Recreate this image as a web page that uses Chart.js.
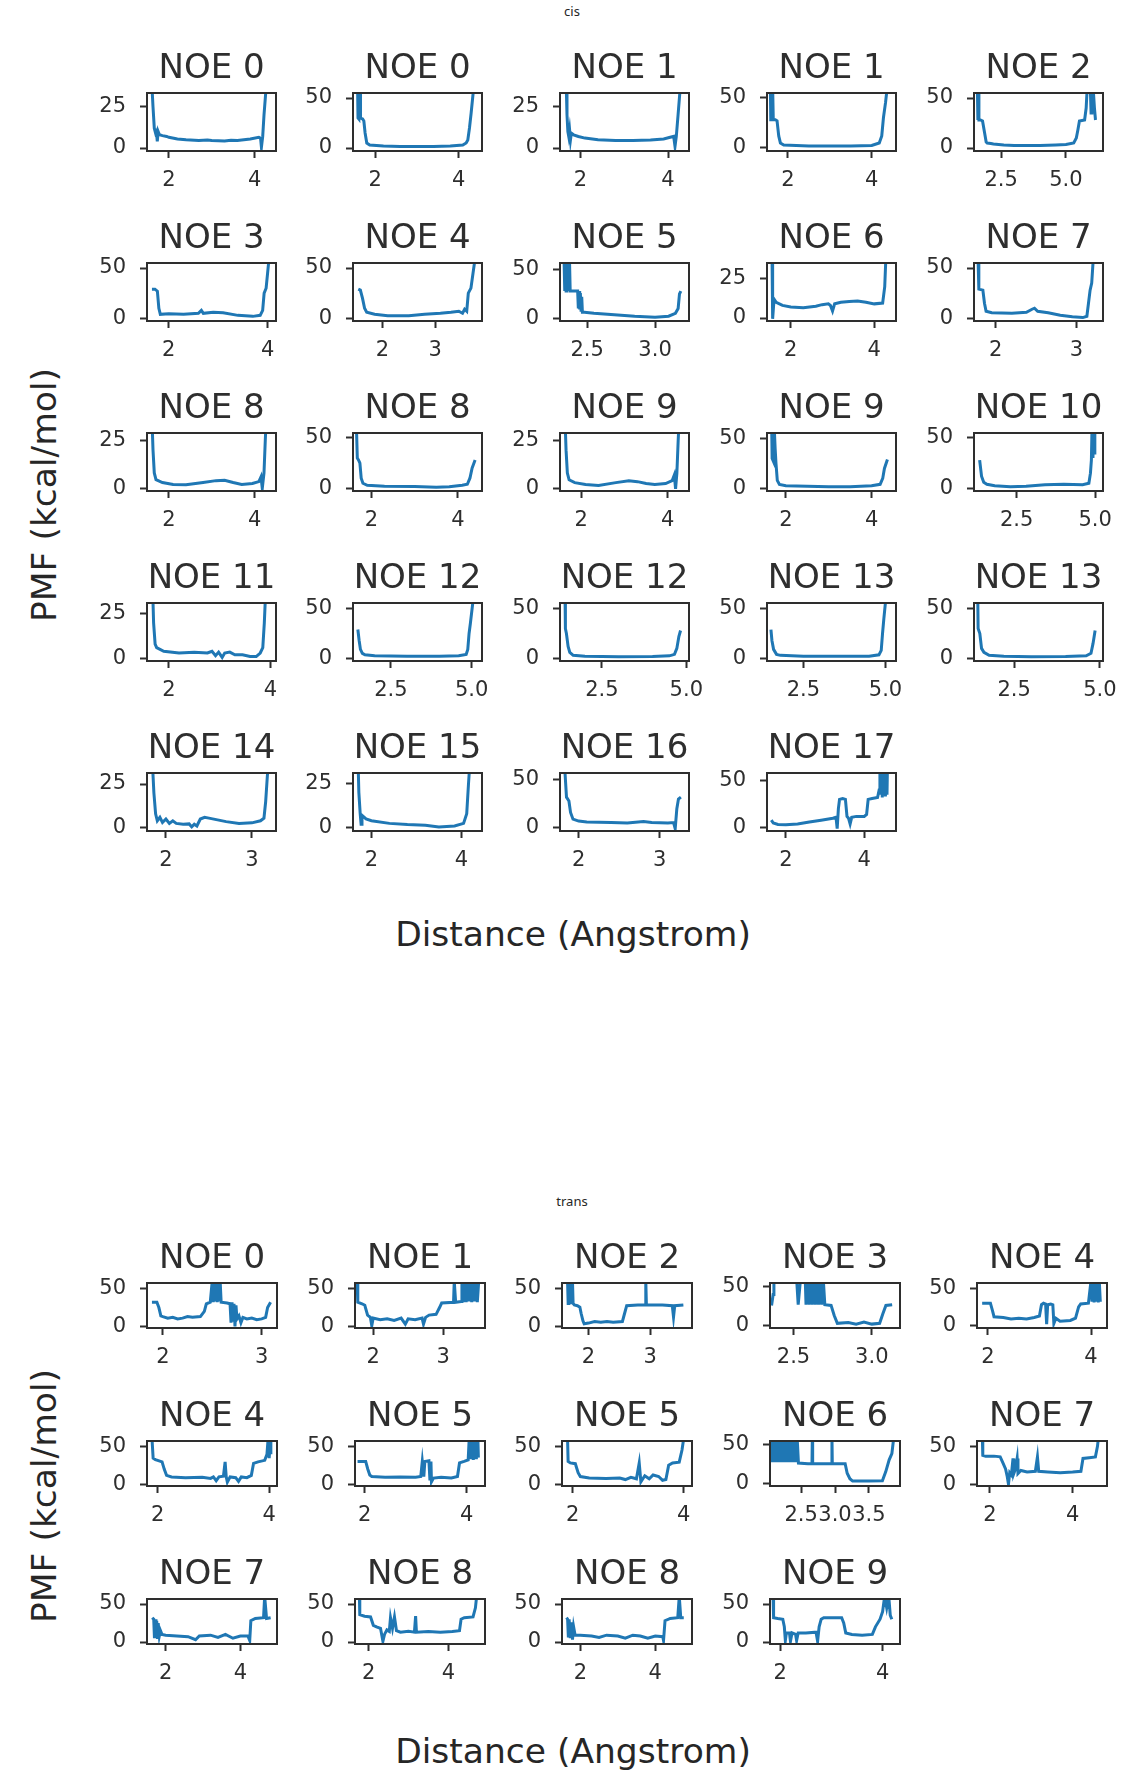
<!DOCTYPE html>
<html>
<head>
<meta charset="utf-8">
<title>PMF per NOE</title>
<script src="https://cdn.jsdelivr.net/npm/chart.js@4.4.1/dist/chart.umd.min.js"></script>
<style>
  body { margin: 0; background: #fff; }
  #page { position: relative; width: 1144px; height: 1784px; overflow: hidden; font-family: "DejaVu Sans", sans-serif; color: #262626; }
  #page canvas { position: absolute; }
  .big { position: absolute; font-size: 34.5px; line-height: 34px; white-space: nowrap; }
  .small { position: absolute; font-family: "Noto Sans", sans-serif; font-size: 13px; line-height: 13px; white-space: nowrap; transform: translateX(-50%); }
  .ylab { transform: translate(-50%, -50%) rotate(-90deg); }
  .xlab { transform: translateX(-50%); }
</style>
</head>
<body>
<div id="page">
  <div class="small" style="left:572px; top:5px;">cis</div>
  <div class="big ylab" style="left:44px; top:495px;">PMF (kcal/mol)</div>
  <div class="big xlab" style="left:573px; top:917px;">Distance (Angstrom)</div>
  <div class="small" style="left:572px; top:1195px;">trans</div>
  <div class="big ylab" style="left:44px; top:1496px;">PMF (kcal/mol)</div>
  <div class="big xlab" style="left:573px; top:1734px;">Distance (Angstrom)</div>
</div>
<script>
// ---- cis panels (row by row) ----
const cisTitles = ['NOE 0', 'NOE 0', 'NOE 1', 'NOE 1', 'NOE 2',
                   'NOE 3', 'NOE 4', 'NOE 5', 'NOE 6', 'NOE 7',
                   'NOE 8', 'NOE 8', 'NOE 9', 'NOE 9', 'NOE 10',
                   'NOE 11', 'NOE 12', 'NOE 12', 'NOE 13', 'NOE 13',
                   'NOE 14', 'NOE 15', 'NOE 16', 'NOE 17'];
const cisXTicks = [['2','4'], ['2','4'], ['2','4'], ['2','4'], ['2.5','5.0'],
                   ['2','4'], ['2','3'], ['2.5','3.0'], ['2','4'], ['2','3'],
                   ['2','4'], ['2','4'], ['2','4'], ['2','4'], ['2.5','5.0'],
                   ['2','4'], ['2.5','5.0'], ['2.5','5.0'], ['2.5','5.0'], ['2.5','5.0'],
                   ['2','3'], ['2','4'], ['2','3'], ['2','4']];
const cisYTicks = [['0','25'], ['0','50'], ['0','25'], ['0','50'], ['0','50'],
                   ['0','50'], ['0','50'], ['0','50'], ['0','25'], ['0','50'],
                   ['0','25'], ['0','50'], ['0','25'], ['0','50'], ['0','50'],
                   ['0','25'], ['0','50'], ['0','50'], ['0','50'], ['0','50'],
                   ['0','25'], ['0','25'], ['0','50'], ['0','50']];
const cisXMin = [1.49, 1.47, 1.53, 1.50, 1.45,  1.56, 1.44, 2.30, 1.43, 1.73,  1.49, 1.57, 1.51, 1.56, 1.14,  1.57, 1.33, 1.26, 1.39, 1.33,  1.78, 1.59, 1.77, 1.52];
const cisXMax = [4.50, 4.56, 4.48, 4.58, 6.43,  4.17, 3.89, 3.25, 4.52, 3.33,  4.50, 4.56, 4.49, 4.57, 5.25,  4.11, 5.32, 5.08, 5.32, 5.09,  3.28, 4.46, 3.36, 4.81];
const cisYMin = [-1.8, -3.0, -1.8, -3.0, -3.0,  -2.6, -2.7, -3.0, -1.9, -2.7,  -1.4, -2.7, -1.4, -2.7, -2.7,  -1.5, -2.7, -2.7, -2.7, -2.7,  -1.85, -1.8, -3.4, -3.5];
const cisYMax = [33.3, 55.0, 33.3, 54.6, 55.0,  55.0, 55.0, 57.0, 35.0, 55.0,  28.8, 54.9, 29.0, 55.7, 54.9,  31.2, 55.7, 55.7, 55.7, 55.7,  31.3, 30.9, 57.3, 58.0];

// PMF curves, [distance, kcal/mol]
const cisR1C1 = [[1.60,40],[1.63,25],[1.66,12],[1.69,9],[1.71,10],[1.73,4],[1.75,10],[1.78,8],[1.85,7.5],[1.95,7],[2.0,6.5],[2.2,5.5],[2.4,5],[2.7,4.5],[2.9,4.8],[3.0,4.5],[3.3,4.3],[3.45,4.7],[3.6,4.5],[3.9,5.5],[4.1,6.5],[4.14,6],[4.16,0.5],[4.19,7],[4.22,20],[4.25,30],[4.28,40]];
const cisR1C2 = [[1.58,60],[1.59,30],[1.61,29],[1.62,60],[1.64,60],[1.65,30],[1.70,29],[1.73,27],[1.76,15],[1.80,5],[1.87,3],[2.2,2],[2.6,1.5],[3.0,1.5],[3.4,1.5],[3.8,2],[4.1,3],[4.18,5],[4.22,8],[4.26,20],[4.30,35],[4.36,60]];
const cisR1C3 = [[1.67,40],[1.69,20],[1.71,10],[1.73,7],[1.75,11],[1.77,5],[1.79,9],[1.84,8],[1.95,7],[2.1,6],[2.4,5],[2.8,4.5],[3.2,4.5],[3.6,4.8],[3.9,5.5],[4.05,6.5],[4.13,7],[4.16,1],[4.19,7],[4.23,20],[4.26,30],[4.29,40]];
const cisR1C4 = [[1.58,60],[1.59,28],[1.62,28],[1.63,60],[1.64,60],[1.65,28],[1.70,28],[1.74,27],[1.78,12],[1.82,5],[1.9,3],[2.2,2.5],[2.5,2],[3.0,2],[3.5,2],[4.0,2.5],[4.18,5],[4.24,12],[4.28,30],[4.33,45],[4.37,60]];
const cisR1C5 = [[1.58,60],[1.60,28],[1.62,60],[1.64,28],[1.70,28],[1.78,27],[1.86,15],[1.92,6],[1.96,5],[2.1,4.5],[2.2,4],[2.6,3],[3.0,2.5],[3.5,2.5],[4.0,2.5],[4.6,3],[5.0,3.5],[5.3,5],[5.4,10],[5.46,18],[5.52,27],[5.72,28],[5.78,40],[5.82,60],[5.94,60],[5.97,35],[6.0,60],[6.05,60],[6.10,40],[6.14,28]];
const cisR2C1 = [[1.66,29],[1.72,29],[1.77,27],[1.80,10],[1.83,4],[2.0,4.5],[2.3,4],[2.6,5],[2.66,8],[2.7,5],[2.9,6],[3.1,5.5],[3.4,3],[3.7,2],[3.85,3],[3.90,8],[3.93,25],[3.97,30],[4.0,45],[4.03,60]];
const cisR2C2 = [[1.54,29],[1.58,28],[1.62,20],[1.66,10],[1.70,6],[1.85,4],[2.1,2.5],[2.5,2.5],[2.8,4],[3.1,5],[3.3,6],[3.45,7],[3.52,5],[3.56,9],[3.6,7],[3.63,25],[3.68,30],[3.72,45],[3.76,60]];
const cisR2C3 = [[2.33,60],[2.335,28],[2.34,60],[2.345,28],[2.35,60],[2.355,28],[2.36,60],[2.365,30],[2.37,60],[2.375,28],[2.38,28],[2.42,28],[2.43,28],[2.435,10],[2.44,28],[2.445,9],[2.45,26],[2.455,8],[2.46,22],[2.465,6],[2.48,6],[2.55,5],[2.7,3.5],[2.85,2],[3.0,1],[3.1,2],[3.15,5],[3.17,10],[3.18,25],[3.19,28]];
const cisR2C4 = [[1.55,40],[1.56,10],[1.57,-0.5],[1.58,5],[1.60,12],[1.65,10],[1.8,8],[2.0,7],[2.3,6.5],[2.6,7.5],[2.75,8.5],[2.9,9],[2.95,8],[3.0,4.5],[3.05,9],[3.2,10],[3.4,10.5],[3.6,10.8],[3.8,10],[4.0,9],[4.2,9.5],[4.25,20],[4.28,40]];
const cisR2C5 = [[1.78,60],[1.79,29],[1.84,28],[1.86,15],[1.88,7],[1.95,5.5],[2.2,5],[2.38,6],[2.45,9],[2.48,10],[2.52,7],[2.65,5.5],[2.8,3],[2.95,1.5],[3.08,0.7],[3.13,2],[3.15,15],[3.17,28],[3.19,35],[3.21,60]];
const cisR3C1 = [[1.60,40],[1.63,20],[1.66,8],[1.70,4.5],[1.85,3],[2.1,2],[2.4,1.8],[2.8,3],[3.1,4],[3.3,4.2],[3.5,3],[3.7,2],[3.95,2.5],[4.1,3.5],[4.15,6],[4.18,0],[4.22,8],[4.25,25],[4.28,40]];
const cisR3C2 = [[1.65,60],[1.67,30],[1.70,28],[1.73,25],[1.76,10],[1.80,5],[1.9,3],[2.3,2],[3.0,1.8],[3.5,1],[3.8,1.5],[4.1,3],[4.22,4],[4.28,10],[4.33,20],[4.40,28]];
const cisR3C3 = [[1.62,40],[1.65,20],[1.68,8],[1.72,4.5],[1.85,3],[2.1,2],[2.4,1.5],[2.8,3],[3.1,4],[3.3,3.5],[3.5,2.5],[3.7,2],[3.95,2.5],[4.1,4],[4.15,7],[4.18,-0.3],[4.21,8],[4.24,25],[4.27,40]];
const cisR3C4 = [[1.67,60],[1.68,30],[1.71,27],[1.73,60],[1.75,40],[1.77,25],[1.80,8],[1.85,4],[2.0,2.5],[2.5,2],[3.0,1.5],[3.5,1.5],[4.0,2.5],[4.2,4],[4.26,10],[4.30,20],[4.37,29]];
const cisR3C5 = [[1.32,28],[1.35,20],[1.38,12],[1.45,6],[1.55,4],[1.8,2.5],[2.3,1.5],[2.8,2],[3.4,3.5],[4.0,4],[4.6,3.5],[4.8,5],[4.85,15],[4.88,28],[4.90,60],[4.93,30],[4.95,60],[4.97,35],[4.99,60]];
const cisR4C1 = [[1.68,40],[1.70,20],[1.73,8],[1.76,6],[1.9,4],[2.2,3],[2.5,3.5],[2.76,3],[2.85,4],[2.92,1.5],[2.98,3.5],[3.05,0.5],[3.1,3],[3.2,3.5],[3.3,2],[3.45,2],[3.6,1],[3.72,1],[3.8,3],[3.85,6],[3.88,20],[3.91,40]];
const cisR4C2 = [[1.48,29],[1.52,18],[1.56,9],[1.62,5],[1.7,3.5],[2.0,2.5],[3.0,2],[4.0,2],[4.6,2.5],[4.83,4],[4.88,9],[4.92,25],[4.96,35],[5.05,60]];
const cisR4C3 = [[1.41,60],[1.42,30],[1.45,25],[1.50,12],[1.55,6],[1.65,3],[2.0,2],[3.0,1.5],[4.0,1.8],[4.5,2.5],[4.65,4],[4.72,10],[4.78,22],[4.83,28]];
const cisR4C4 = [[1.51,29],[1.54,18],[1.59,9],[1.68,4],[1.8,3],[2.5,2],[3.5,2],[4.5,2.2],[4.8,3.5],[4.87,8],[4.91,25],[4.95,40],[5.01,60]];
const cisR4C5 = [[1.44,60],[1.45,30],[1.50,25],[1.55,10],[1.62,6],[1.77,3],[2.2,2],[3.0,1.5],[4.0,1.8],[4.6,2.5],[4.74,5],[4.80,15],[4.86,28]];
const cisR5C1 = [[1.84,40],[1.86,20],[1.88,8],[1.90,4],[1.93,6],[1.96,3],[2.0,5],[2.04,2.5],[2.08,4],[2.12,2.5],[2.2,2],[2.27,2.2],[2.3,0.5],[2.33,2],[2.36,1],[2.40,5],[2.45,6],[2.5,5.5],[2.6,4.5],[2.7,3.5],[2.85,2.5],[3.0,2.8],[3.1,4],[3.14,5.5],[3.16,15],[3.18,30],[3.2,40]];
const cisR5C2 = [[1.70,40],[1.72,20],[1.75,8],[1.77,2],[1.79,7],[1.88,5],[2.0,4],[2.4,2.5],[2.8,1.8],[3.2,1.5],[3.5,0.5],[3.85,1],[4.05,2.5],[4.12,8],[4.16,25],[4.20,40]];
const cisR5C3 = [[1.83,60],[1.85,32],[1.88,28],[1.90,16],[1.93,9],[2.0,7],[2.1,6],[2.4,5.5],[2.6,5],[2.8,6.5],[2.9,5.5],[3.1,5],[3.17,5.5],[3.19,-1],[3.21,20],[3.23,30],[3.26,32]];
const cisR5C4 = [[1.63,8],[1.68,5],[1.8,3.5],[2.0,3],[2.3,4],[2.6,6],[2.9,8],[3.2,10],[3.28,11],[3.31,-1],[3.34,20],[3.37,30],[3.45,31],[3.52,30],[3.56,12],[3.6,10],[3.64,4],[3.68,11],[3.8,12],[4.0,12],[4.06,14],[4.1,30],[4.2,31],[4.34,32],[4.38,40],[4.40,60],[4.42,35],[4.44,60],[4.46,32],[4.48,60],[4.50,35],[4.52,60],[4.54,33],[4.56,60],[4.58,35],[4.59,60]];
const cisCurves = [cisR1C1, cisR1C2, cisR1C3, cisR1C4, cisR1C5,
                   cisR2C1, cisR2C2, cisR2C3, cisR2C4, cisR2C5,
                   cisR3C1, cisR3C2, cisR3C3, cisR3C4, cisR3C5,
                   cisR4C1, cisR4C2, cisR4C3, cisR4C4, cisR4C5,
                   cisR5C1, cisR5C2, cisR5C3, cisR5C4];

// ---- trans panels ----
const transTitles = ['NOE 0', 'NOE 1', 'NOE 2', 'NOE 3', 'NOE 4',
                     'NOE 4', 'NOE 5', 'NOE 5', 'NOE 6', 'NOE 7',
                     'NOE 7', 'NOE 8', 'NOE 8', 'NOE 9'];
const transXTicks = [['2','3'], ['2','3'], ['2','3'], ['2.5','3.0'], ['2','4'],
                     ['2','4'], ['2','4'], ['2','4'], ['2.5','3.0','3.5'], ['2','4'],
                     ['2','4'], ['2','4'], ['2','4'], ['2','4']];
const transYTicks = ['0', '50'];
const transXMin = [1.84, 1.74, 1.57, 2.35, 1.79,  1.81, 1.81, 1.81, 2.04, 1.69,  1.50, 1.66, 1.51, 1.80];
const transXMax = [3.155, 3.60, 3.68, 3.18, 4.31,  4.14, 4.36, 4.15, 3.96, 4.83,  4.98, 4.92, 4.98, 4.34];
const transYMin = [-2.1, -2.1, -2.5, -3.0, -3.0,  -2.1, -2.5, -2.5, -3.3, -2.5,  -2.6, -2.6, -2.6, -2.6];
const transYMax = [57.5, 57.5, 57.0, 54.8, 56.9,  57.7, 57.0, 57.0, 54.0, 57.0,  56.6, 56.6, 56.6, 56.6];

const transR1C1 = [[1.89,32],[1.94,32],[1.96,25],[1.98,14],[2.0,13],[2.05,11],[2.1,12],[2.15,10],[2.2,11],[2.25,13],[2.3,12],[2.38,13],[2.42,20],[2.44,30],[2.48,32],[2.50,60],[2.51,32],[2.52,60],[2.53,33],[2.54,60],[2.55,32],[2.56,60],[2.57,33],[2.58,60],[2.59,32],[2.65,31],[2.68,30],[2.69,5],[2.70,32],[2.71,8],[2.72,30],[2.73,0],[2.74,28],[2.75,10],[2.77,14],[2.79,5],[2.81,12],[2.85,10],[2.9,11],[2.95,9],[3.0,10],[3.04,12],[3.06,25],[3.09,32]];
const transR1C2 = [[1.77,60],[1.78,32],[1.84,30],[1.88,28],[1.92,15],[1.96,12],[1.98,1],[2.0,11],[2.1,9],[2.2,10],[2.3,8],[2.4,11],[2.46,3],[2.5,10],[2.6,9],[2.7,11],[2.72,3],[2.75,12],[2.8,15],[2.9,16],[2.95,25],[2.98,31],[3.15,32],[3.16,60],[3.18,32],[3.26,33],[3.27,60],[3.29,32],[3.31,60],[3.33,32],[3.35,60],[3.37,33],[3.39,60],[3.41,32],[3.43,60],[3.45,33],[3.47,60],[3.49,32],[3.51,60]];
const transR1C3 = [[1.66,60],[1.67,30],[1.68,60],[1.69,29],[1.70,60],[1.71,30],[1.72,60],[1.73,29],[1.74,60],[1.75,30],[1.77,28],[1.82,27],[1.86,25],[1.88,17],[1.91,7],[1.93,3],[2.0,4],[2.1,6],[2.2,5],[2.3,6],[2.4,5],[2.55,6],[2.58,15],[2.62,27],[2.8,28],[2.92,28],[2.93,60],[2.94,28],[3.2,28],[3.36,27],[3.38,12],[3.40,27],[3.54,28]];
const transR1C4 = [[2.36,26],[2.37,40],[2.375,60],[2.52,60],[2.53,27],[2.545,60],[2.575,60],[2.58,27],[2.59,60],[2.60,27],[2.61,60],[2.62,27],[2.63,60],[2.64,27],[2.65,60],[2.66,27],[2.67,60],[2.68,27],[2.69,60],[2.70,27],[2.74,26],[2.76,13],[2.78,3],[2.85,4],[2.9,2],[2.95,4.5],[3.0,2],[3.05,3],[3.07,15],[3.09,26],[3.13,27]];
const transR1C5 = [[1.89,30],[2.05,30],[2.09,20],[2.12,12],[2.3,11],[2.45,9],[2.6,10],[2.75,9],[2.9,11],[3.0,13],[3.04,28],[3.08,30],[3.12,29],[3.14,2],[3.16,28],[3.22,29],[3.26,28],[3.28,3],[3.32,10],[3.4,6],[3.6,7],[3.7,10],[3.76,25],[3.80,29],[3.95,30],[4.0,60],[4.02,32],[4.04,60],[4.06,31],[4.08,60],[4.10,32],[4.12,60],[4.14,31],[4.16,60],[4.18,32]];
const transR2C1 = [[1.90,60],[1.92,35],[1.96,33],[2.0,32],[2.08,30],[2.12,20],[2.16,12],[2.25,10],[2.5,9],[2.8,9.5],[2.95,8],[3.0,10],[3.05,5],[3.1,10],[3.18,11],[3.21,30],[3.23,10],[3.25,3],[3.3,10],[3.4,9],[3.45,4],[3.5,10],[3.6,9],[3.68,12],[3.72,28],[3.8,30],[3.92,32],[3.96,40],[3.98,60],[4.0,35],[4.02,60],[4.03,40]];
const transR2C2 = [[1.86,30],[2.02,30],[2.06,20],[2.1,12],[2.14,10],[2.4,9],[2.7,9.5],[3.0,9],[3.1,10],[3.13,30],[3.16,10],[3.18,30],[3.26,31],[3.28,5],[3.30,30],[3.31,3],[3.35,8],[3.5,9],[3.7,8],[3.82,10],[3.86,28],[3.95,30],[4.03,32],[4.05,60],[4.08,33],[4.1,60],[4.13,32],[4.16,60],[4.19,33],[4.22,60],[4.23,35]];
const transR2C3 = [[1.91,60],[1.92,30],[1.96,28],[2.05,27],[2.1,15],[2.14,10],[2.3,8],[2.6,7.5],[2.85,8],[2.95,6],[3.05,9],[3.15,7],[3.2,28],[3.23,3],[3.3,11],[3.38,7],[3.45,12],[3.55,10],[3.62,5],[3.68,6],[3.73,25],[3.8,28],[3.92,29],[3.97,45],[4.0,60]];
const transR2C4 = [[2.06,27],[2.08,60],[2.10,27],[2.12,60],[2.14,27],[2.16,60],[2.18,27],[2.20,60],[2.22,27],[2.24,60],[2.26,27],[2.28,60],[2.30,27],[2.32,60],[2.34,27],[2.36,60],[2.38,27],[2.40,60],[2.42,27],[2.44,60],[2.46,26],[2.6,25],[2.66,25],[2.665,60],[2.67,25],[2.95,25],[2.955,60],[2.96,25],[3.15,25],[3.18,13],[3.22,6],[3.26,3],[3.5,3],[3.7,3.5],[3.75,15],[3.8,30],[3.84,38],[3.87,60]];
const transR2C5 = [[1.82,60],[1.83,38],[1.9,37],[2.1,37],[2.25,36],[2.3,30],[2.38,20],[2.42,10],[2.45,0],[2.48,15],[2.52,12],[2.56,34],[2.58,14],[2.62,20],[2.66,34],[2.68,14],[2.75,18],[2.9,16],[3.1,17],[3.15,36],[3.18,17],[3.4,16],[3.7,15],[4.0,16],[4.2,17],[4.25,34],[4.4,35],[4.55,36],[4.6,50],[4.62,60]];
const transR3C1 = [[1.64,32],[1.68,30],[1.70,5],[1.72,30],[1.74,8],[1.76,28],[1.78,4],[1.80,25],[1.83,8],[1.86,15],[1.9,10],[2.0,9],[2.3,8],[2.6,7],[2.8,3],[2.9,8],[3.2,9],[3.4,6],[3.6,10],[3.8,5],[4.0,8],[4.2,8],[4.25,2],[4.28,28],[4.4,31],[4.62,32],[4.65,60],[4.70,31],[4.81,32]];
const transR3C2 = [[1.77,60],[1.78,36],[1.9,34],[2.05,33],[2.12,22],[2.2,20],[2.3,18],[2.36,1],[2.4,10],[2.46,16],[2.52,14],[2.55,32],[2.6,18],[2.65,33],[2.7,15],[2.8,13],[3.0,14],[3.15,13],[3.18,34],[3.2,13],[3.5,14],[3.8,13],[4.1,14],[4.28,15],[4.32,30],[4.4,32],[4.62,33],[4.68,45],[4.71,60]];
const transR3C3 = [[1.63,32],[1.66,30],[1.68,6],[1.70,30],[1.73,5],[1.76,26],[1.79,3],[1.82,20],[1.86,9],[2.0,9],[2.3,8],[2.5,6],[2.7,9],[3.0,8],[3.2,5],[3.4,9],[3.6,8],[3.8,5],[4.0,8],[4.2,7],[4.22,2],[4.26,28],[4.4,31],[4.6,32],[4.64,60],[4.68,32],[4.76,32]];
const transR3C4 = [[1.86,60],[1.87,32],[1.95,31],[2.05,30],[2.08,20],[2.10,2],[2.12,12],[2.18,12],[2.2,1],[2.23,12],[2.3,10],[2.32,2],[2.35,12],[2.5,12],[2.7,13],[2.73,1],[2.76,20],[2.8,30],[2.85,32],[3.2,32],[3.24,25],[3.28,12],[3.4,10],[3.6,9],[3.8,10],[3.86,20],[3.95,30],[4.0,40],[4.04,60],[4.08,45],[4.12,60],[4.15,35],[4.18,30]];
const transCurves = [transR1C1, transR1C2, transR1C3, transR1C4, transR1C5,
                     transR2C1, transR2C2, transR2C3, transR2C4, transR2C5,
                     transR3C1, transR3C2, transR3C3, transR3C4];

// ---- layout ----
const ink = '#2e2e2e';
const lineBlue = '#1f77b4';
const SIDE = 70;      // room for y tick labels (mirrored on the right so titles stay centred)
const TITLE_H = 50;   // 34px * 1.2 + padding 5.7 + 3.5
const BOTTOM = 46;    // x tick marks + labels
const cisCols = [147, 353, 560, 767, 974], cisRows = [93, 263, 433, 603, 773];
const cisW = 129, cisH = 58;
const transCols = [147, 355, 562, 770, 977], transRows = [1283, 1441, 1599];
const transW = 130, transH = 45;

Chart.defaults.font.family = '"DejaVu Sans", sans-serif';
Chart.defaults.color = ink;

// box round the plot area, drawn over the line like matplotlib spines
const frame = {
    id: 'frame',
    afterDatasetsDraw(chart) {
        const a = chart.chartArea;
        const ctx = chart.ctx;
        ctx.save();
        ctx.strokeStyle = ink;
        ctx.lineWidth = 2;
        ctx.strokeRect(a.left, a.top, a.right - a.left, a.bottom - a.top);
        ctx.restore();
    }
};

function tickAxis(labels, min, max, isX) {
    return {
        type: 'linear',
        position: isX ? 'bottom' : 'left',
        min: min,
        max: max,
        afterBuildTicks: (scale) => { scale.ticks = labels.map(t => ({ value: parseFloat(t) })); },
        afterFit: (scale) => { if (isX) scale.height = BOTTOM; else scale.width = SIDE; },
        ticks: {
            callback: (v, i) => labels[i],
            autoSkip: false,
            maxRotation: 0,
            minRotation: 0,
            padding: isX ? 10 : 14,
            color: ink,
            font: { size: 21 }
        },
        grid: { display: true, drawOnChartArea: false, drawTicks: true, tickLength: 7, tickWidth: 2, tickColor: ink },
        border: { display: false }
    };
}

function makePanel(page, left, top, w, h, title, pts, xMin, xMax, xTicks, yMin, yMax, yTicks) {
    const canvas = document.createElement('canvas');
    canvas.width = w + 2 * SIDE;
    canvas.height = TITLE_H + h + BOTTOM;
    canvas.style.left = (left - SIDE) + 'px';
    canvas.style.top = (top - TITLE_H) + 'px';
    page.appendChild(canvas);

    new Chart(canvas.getContext('2d'), {
        type: 'line',
        data: {
            datasets: [{
                data: pts.map(p => ({ x: p[0], y: p[1] })),
                borderColor: lineBlue,
                borderWidth: 3,
                pointRadius: 0,
                fill: false,
                tension: 0,
                clip: 0
            }]
        },
        options: {
            responsive: false,
            animation: false,
            devicePixelRatio: 1,
            events: [],
            layout: { padding: 0 },
            plugins: {
                legend: { display: false },
                tooltip: { enabled: false },
                title: {
                    display: true,
                    text: title,
                    color: ink,
                    font: { size: 34, weight: 'normal', lineHeight: 1.2 },
                    padding: { top: 5.7, bottom: 3.5 }
                }
            },
            scales: {
                x: tickAxis(xTicks, xMin, xMax, true),
                y: tickAxis(yTicks, yMin, yMax, false),
                // empty mirror axis on the right
                yRight: {
                    type: 'linear', position: 'right', min: 0, max: 1,
                    afterFit: (scale) => { scale.width = SIDE; },
                    ticks: { display: false },
                    grid: { display: false },
                    border: { display: false }
                }
            }
        },
        plugins: [frame]
    });
}

document.addEventListener('DOMContentLoaded', function() {
    const page = document.getElementById('page');

    cisTitles.forEach((t, i) => {
        const r = Math.floor(i / 5), c = i % 5;
        makePanel(page, cisCols[c], cisRows[r], cisW, cisH, t, cisCurves[i],
                  cisXMin[i], cisXMax[i], cisXTicks[i], cisYMin[i], cisYMax[i], cisYTicks[i]);
    });

    transTitles.forEach((t, i) => {
        const r = Math.floor(i / 5), c = i % 5;
        makePanel(page, transCols[c], transRows[r], transW, transH, t, transCurves[i],
                  transXMin[i], transXMax[i], transXTicks[i], transYMin[i], transYMax[i], transYTicks);
    });
});
</script>
</body>
</html>
